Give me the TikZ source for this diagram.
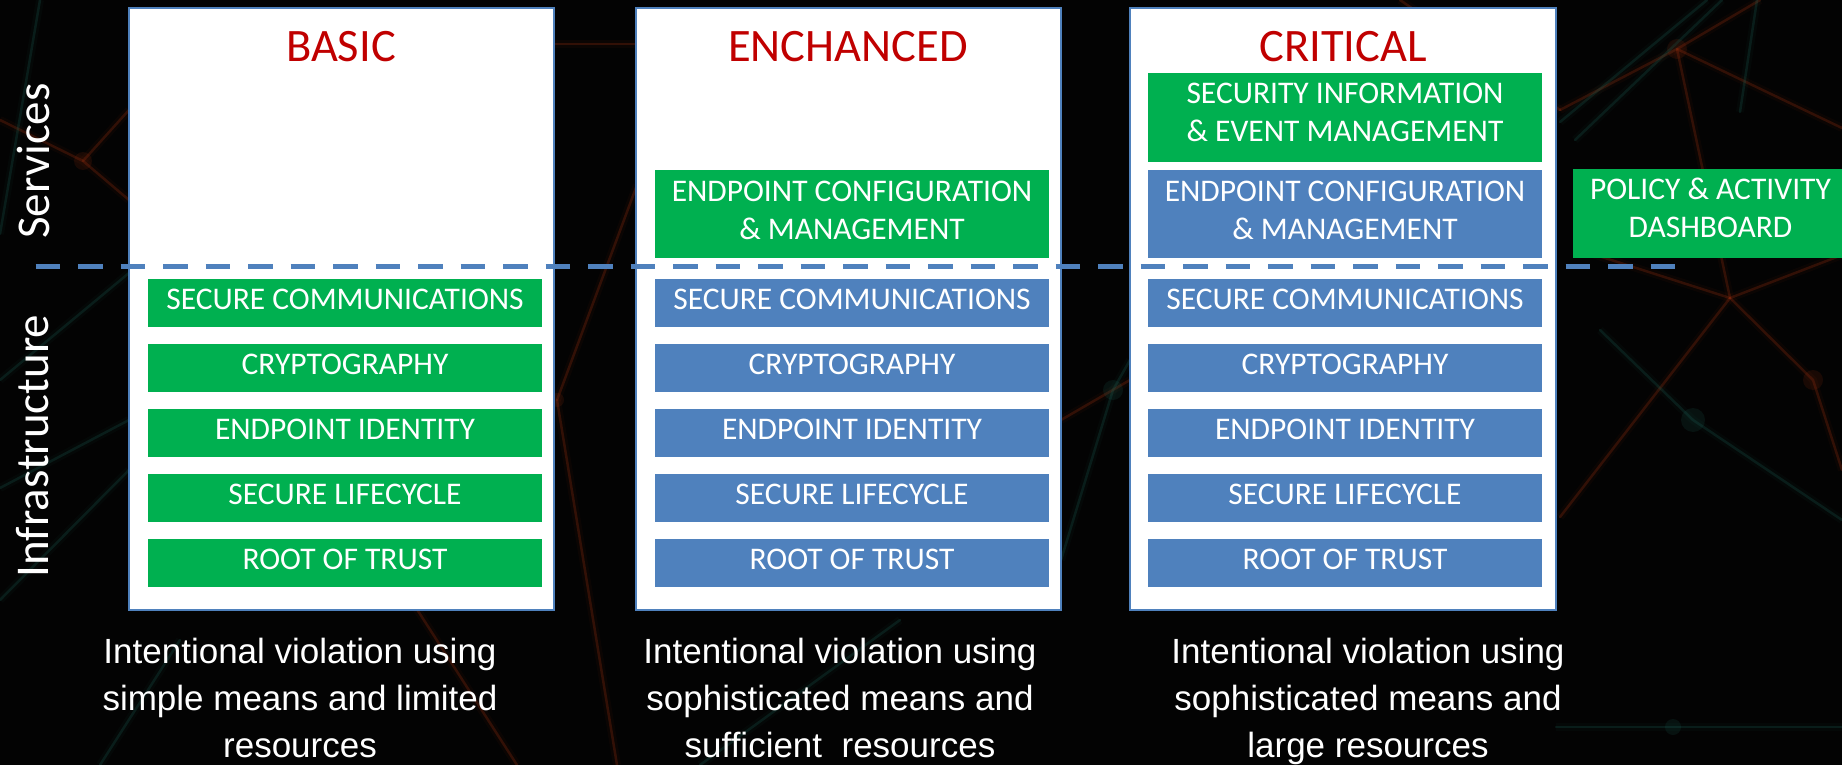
\documentclass[tikz,border=0pt]{standalone}
\usepackage{fontspec}
\setmainfont{Carlito}
\newfontfamily\captionfont{Liberation Sans}
\usetikzlibrary{calc}

\definecolor{okgreen}{HTML}{00B050}
\definecolor{okblue}{HTML}{4F81BD}
\definecolor{titlered}{HTML}{C00000}
\definecolor{bgdark}{HTML}{030303}
\definecolor{netred}{HTML}{9A2E0E}
\definecolor{netteal}{HTML}{1E6B5E}

\tikzset{
  tier/.style={draw=okblue, line width=2pt, fill=white},
  tiertitle/.style={text=titlered, font=\fontsize{46.5}{50}\selectfont, inner sep=0pt, anchor=base},
  blk/.style={minimum width=394pt, minimum height=48pt, inner sep=0pt, text=white,
              font=\fontsize{31.5}{38}\selectfont, text height=20pt, text depth=8pt},
  gblk/.style={blk, fill=okgreen},
  bblk/.style={blk, fill=okblue},
  tallblk/.style={minimum width=394pt, minimum height=88pt, inner sep=0pt},
  % multi-line texts: the base anchor sits on the last line
  blktext/.style={text=white, font=\fontsize{31.5}{38}\selectfont, align=center, inner sep=0pt, anchor=base},
  sidelabel/.style={text=white, font=\fontsize{47}{50}\selectfont, rotate=90, anchor=base, inner sep=0pt},
  threat/.style={text=white, font=\captionfont\fontsize{35}{47}\selectfont, align=center, inner sep=0pt, anchor=base},
  divider/.style={draw=okblue, line width=5pt, dash pattern=on 24.8pt off 17.7pt},
  netr/.style={draw=netred, line width=2.5pt, draw opacity=0.28, line cap=round,
               preaction={draw=netred, line width=8pt, draw opacity=0.06}},
  nett/.style={draw=netteal, line width=2.5pt, draw opacity=0.22, line cap=round,
               preaction={draw=netteal, line width=8pt, draw opacity=0.05}},
  glowr/.style={fill=netred, fill opacity=0.15},
  glowt/.style={fill=netteal, fill opacity=0.15},
}

\begin{document}
\begin{tikzpicture}[x=1pt, y=-1pt]
  % canvas
  \clip (0,0) rectangle (1842,765);
  \fill[bgdark] (0,0) rectangle (1842,765);

  % faint network texture in the background
  \draw[netr] (1677,49) -- (1730,298) -- (1813,380) -- (1842,470);
  \draw[netr] (1677,49) -- (1842,128);
  \draw[netr] (1560,110) -- (1677,49) -- (1760,0);
  \draw[netr] (1560,517) -- (1730,298);
  \draw[netr] (1730,298) -- (1842,255);
  \draw[netr] (1580,250) -- (1730,298);
  \draw[netr] (1400,0) -- (1560,110);
  \draw[netr] (557,400) -- (617,765);
  \draw[netr] (557,400) -- (637,185);
  \draw[netr] (411,600) -- (517,765);
  \draw[netr] (0,120) -- (83,161) -- (129,200);
  \draw[netr] (83,161) -- (129,110);
  \draw[netr] (555,44) -- (640,44);
  \draw[netr] (1061,420) -- (1130,380);
  \fill[glowr] (1677,49) circle (10);
  \fill[glowr] (1813,380) circle (10);
  \fill[glowr] (83,161) circle (9);
  \fill[glowr] (557,400) circle (7);

  \draw[nett] (1560,122) -- (1707,0);
  \draw[nett] (1575,140) -- (1722,0);
  \draw[nett] (1757,0) -- (1740,112);
  \draw[nett] (1556,727) -- (1842,727);
  \draw[nett] (1600,330) -- (1693,420) -- (1842,520);
  \draw[nett] (0,380) -- (129,273);
  \draw[nett] (0,488) -- (129,420);
  \draw[nett] (0,600) -- (129,470);
  \draw[nett] (0,234) -- (40,0);
  \draw[nett] (1061,560) -- (1113,390) -- (1130,360);
  \draw[nett] (100,765) -- (180,640);
  \draw[nett] (700,765) -- (900,620);
  \fill[glowt] (1693,420) circle (12);
  \fill[glowt] (1113,390) circle (10);
  \fill[glowt] (1673,727) circle (8);

  % side labels
  \node[sidelabel] (svc) at (49,161) {Services};
  \node[sidelabel] (infra) at (48,446) {Infrastructure};

  % the three tiers
  \node[tier, minimum width=425pt, minimum height=602pt, inner sep=0pt] (basic) at (341.5,309) {};
  \node[tier, minimum width=425pt, minimum height=602pt, inner sep=0pt] (enh) at (848.5,309) {};
  \node[tier, minimum width=426pt, minimum height=602pt, inner sep=0pt] (crit) at (1343,309) {};

  \node[tiertitle] (basicT) at (341,62) {BASIC};
  \node[tiertitle] (enhT) at (848,62) {ENCHANCED};
  \node[tiertitle] (critT) at (1343,62) {CRITICAL};

  % BASIC: infrastructure only
  \node[gblk] (b1) at (345,303) {SECURE COMMUNICATIONS};
  \node[gblk] (b2) at (345,368) {CRYPTOGRAPHY};
  \node[gblk] (b3) at (345,433) {ENDPOINT IDENTITY};
  \node[gblk] (b4) at (345,498) {SECURE LIFECYCLE};
  \node[gblk] (b5) at (345,563) {ROOT OF TRUST};

  % ENCHANCED
  \node[tallblk, fill=okgreen] (e0) at (852,214) {};
  \node[blktext] (e0t) at ($(e0.center)+(0,25)$) {ENDPOINT CONFIGURATION\\\& MANAGEMENT};
  \node[bblk] (e1) at (852,303) {SECURE COMMUNICATIONS};
  \node[bblk] (e2) at (852,368) {CRYPTOGRAPHY};
  \node[bblk] (e3) at (852,433) {ENDPOINT IDENTITY};
  \node[bblk] (e4) at (852,498) {SECURE LIFECYCLE};
  \node[bblk] (e5) at (852,563) {ROOT OF TRUST};

  % CRITICAL
  \node[tallblk, fill=okgreen, minimum height=89pt] (cS) at (1345,117.5) {};
  \node[blktext] (cSt) at ($(cS.center)+(0,24)$) {SECURITY INFORMATION\\\& EVENT MANAGEMENT};
  \node[tallblk, fill=okblue] (c0) at (1345,214) {};
  \node[blktext] (c0t) at ($(c0.center)+(0,25)$) {ENDPOINT CONFIGURATION\\\& MANAGEMENT};
  \node[bblk] (c1) at (1345,303) {SECURE COMMUNICATIONS};
  \node[bblk] (c2) at (1345,368) {CRYPTOGRAPHY};
  \node[bblk] (c3) at (1345,433) {ENDPOINT IDENTITY};
  \node[bblk] (c4) at (1345,498) {SECURE LIFECYCLE};
  \node[bblk] (c5) at (1345,563) {ROOT OF TRUST};

  % dashboard outside the tiers
  \node[tallblk, fill=okgreen, minimum width=275pt, minimum height=89pt] (dash) at (1710.5,213.5) {};
  \node[blktext] (dasht) at ($(dash.center)+(0,24)$) {POLICY \& ACTIVITY\\DASHBOARD};

  % services / infrastructure divider
  \coordinate (divL) at (35.6,266);
  \coordinate (divR) at (1678,266);
  \draw[divider] (divL) -- (divR);

  % threat descriptions
  \node[threat] (thB) at (300,757) {Intentional violation using\\simple means and limited\\resources};
  \node[threat] (thE) at (840,757) {Intentional violation using\\sophisticated means and\\sufficient\ \ resources};
  \node[threat] (thC) at (1368,757) {Intentional violation using\\sophisticated means and\\large resources};
\end{tikzpicture}
\end{document}
